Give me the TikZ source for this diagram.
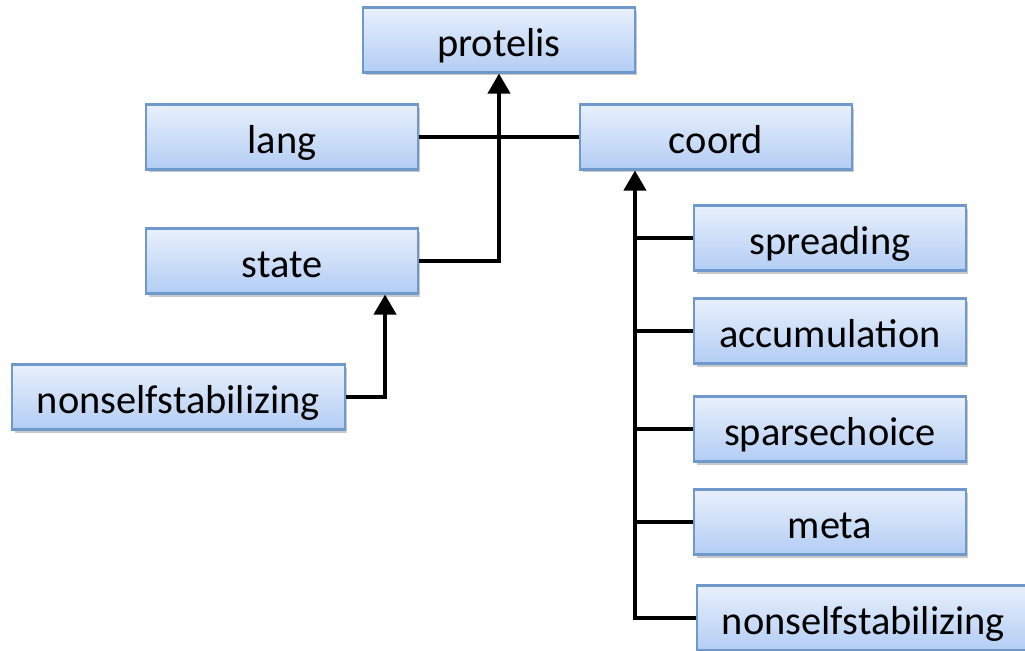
\documentclass[tikz,border=0pt]{standalone}
\usepackage{fontspec}
\setmainfont{Carlito}
\usetikzlibrary{arrows.meta,shadows}
\definecolor{boxtop}{HTML}{E8F0FC}
\definecolor{boxbottom}{HTML}{B3CDF4}
\definecolor{boxborder}{HTML}{6F99CD}
\tikzset{
	modbox/.style={draw=boxborder, line width=1.2pt, top color=boxtop, bottom color=boxbottom,
		minimum width=5.44cm, minimum height=1.3cm, inner sep=0pt,
		text height=0.8cm, text depth=0.16cm,
		font=\fontsize{23}{27}\selectfont,
		drop shadow={shadow xshift=0.05cm, shadow yshift=-0.06cm, opacity=0.3, fill=black!70}},
	link/.style={line width=2.3pt},
	dep/.style={link, -{Triangle[length=0.4cm,width=0.44cm]}}
}
\begin{document}
\begin{tikzpicture}[x=0.02cm,y=-0.02cm]
		\useasboundingbox (0,0) rectangle (1025,650);
		% top level
		\node[modbox] (protelis) at (499,40) {protelis};
		\node[modbox] (lang) at (282,137) {lang};
		\node[modbox] (coord) at (716,137) {coord};
		\node[modbox] (state) at (282,261) {state};
		\node[modbox, minimum width=6.66cm] (nonselfA) at (178.5,397) {nonselfstabilizing};
		% coord children
		\foreach \name/\y in {spreading/238, accumulation/331, sparsechoice/429, meta/522}{
				\node[modbox] (\name) at (830,\y) {\name};
			}
		\node[modbox, minimum width=6.66cm] (nonselfB) at (863.5,618) {nonselfstabilizing};
		% connectors
		\draw[link] (lang.east) -- (coord.west);
		\draw[dep] (state.east) -| (protelis.south);
		\draw[dep] (nonselfA.east) -| ([xshift=-0.68cm]state.south east);
		\coordinate (trunk) at ([xshift=1.12cm]coord.south west);
		\draw[dep] (nonselfB.west) -| (trunk);
		\foreach \name in {spreading, accumulation, sparsechoice, meta}{
				\draw[link] (\name.west) -- (\name.west -| trunk);
			}
	\end{tikzpicture}
\end{document}
